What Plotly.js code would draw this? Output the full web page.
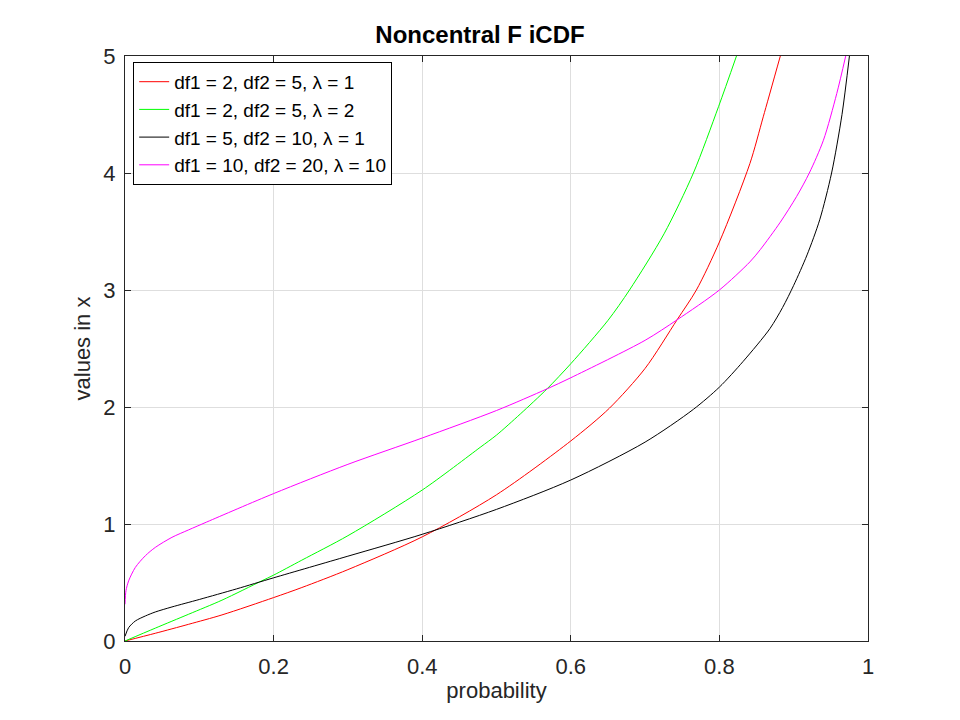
<!DOCTYPE html>
<html>
<head>
<meta charset="utf-8">
<script src="https://cdn.plot.ly/plotly-3.0.1.min.js"></script>
<style>
  html, body { margin: 0; padding: 0; background: #fff; }
  #plot { width: 960px; height: 720px; }
</style>
</head>
<body>
<div id="plot"></div>
<script>
// ─── Values ──────────────────────────────────────────────────────
const seriesNames = [
  'df1 = 2, df2 = 5, λ = 1',
  'df1 = 2, df2 = 5, λ = 2',
  'df1 = 5, df2 = 10, λ = 1',
  'df1 = 10, df2 = 20, λ = 10'
];
const seriesColors = ['#ff0000', '#00ff00', '#000000', '#ff00ff'];

const redP = [0, 0.0408, 0.0857, 0.1305, 0.2, 0.238, 0.3, 0.4, 0.5, 0.6, 0.652, 0.7, 0.743, 0.769, 0.8, 0.841, 0.859, 0.882];
const redX = [0, 0.066, 0.143, 0.223, 0.371, 0.457, 0.61, 0.89, 1.25, 1.71, 1.99, 2.33, 2.745, 3.0, 3.41, 4.08, 4.48, 5.0];

const greenP = [0, 0.0408, 0.0857, 0.1305, 0.184, 0.2, 0.238, 0.3, 0.4, 0.478, 0.5, 0.532, 0.568, 0.6, 0.65, 0.679, 0.7255, 0.765, 0.799, 0.823];
const greenX = [0, 0.11, 0.229, 0.349, 0.514, 0.563, 0.691, 0.90, 1.29, 1.655, 1.76, 1.94, 2.155, 2.37, 2.74, 3.0, 3.48, 4.0, 4.57, 5.0];

const blackP = [0, 0.0049, 0.0139, 0.0274, 0.0408, 0.0632, 0.1, 0.15, 0.2, 0.3, 0.4, 0.5, 0.6, 0.7, 0.765, 0.8, 0.832, 0.868, 0.885, 0.9, 0.918, 0.935, 0.951, 0.965, 0.975];
const blackX = [0.04, 0.114, 0.171, 0.214, 0.248, 0.291, 0.355, 0.445, 0.54, 0.725, 0.912, 1.125, 1.376, 1.70, 1.98, 2.17, 2.39, 2.67, 2.85, 3.04, 3.3, 3.6, 4.0, 4.5, 5.0];

const magentaP = [0, 0.0013, 0.0049, 0.0139, 0.0274, 0.0408, 0.0632, 0.0857, 0.11, 0.2, 0.3, 0.4, 0.5, 0.568, 0.6, 0.7, 0.743, 0.8, 0.841, 0.855, 0.882, 0.904, 0.921, 0.94, 0.958, 0.97];
const magentaX = [0.314, 0.43, 0.514, 0.629, 0.729, 0.80, 0.886, 0.95, 1.017, 1.26, 1.51, 1.735, 1.97, 2.155, 2.25, 2.57, 2.745, 3.0, 3.24, 3.345, 3.58, 3.80, 4.0, 4.28, 4.68, 5.0];

const xTicks = [0, 0.2, 0.4, 0.6, 0.8, 1];
const xTickText = ['0', '0.2', '0.4', '0.6', '0.8', '1'];
const yTicks = [0, 1, 2, 3, 4, 5];

// ─── Traces ──────────────────────────────────────────────────────
const allP = [redP, greenP, blackP, magentaP];
const allX = [redX, greenX, blackX, magentaX];

const traces = seriesNames.map((name, i) => ({
  x: allP[i],
  y: allX[i],
  type: 'scatter',
  mode: 'lines',
  name: name,
  line: { color: seriesColors[i], width: 1, shape: 'spline', smoothing: 0.8 }
}));

const FONT = 'Liberation Sans, Arial, Helvetica, sans-serif';
const AXIS_COLOR = '#262626';

const axisCommon = {
  showline: true,
  linecolor: AXIS_COLOR,
  linewidth: 1,
  mirror: 'ticks',
  ticks: 'inside',
  ticklen: 6,
  tickwidth: 1,
  tickcolor: AXIS_COLOR,
  showgrid: true,
  gridcolor: '#dedede',
  gridwidth: 1,
  zeroline: false,
  tickfont: { family: FONT, size: 22, color: AXIS_COLOR }
};

const layout = {
  width: 960,
  height: 720,
  paper_bgcolor: '#ffffff',
  plot_bgcolor: '#ffffff',
  margin: { l: 125, r: 92, t: 56, b: 79 },
  title: {
    text: '<b>Noncentral F iCDF</b>',
    font: { family: FONT, size: 24, color: '#000000' },
    x: 0.5,
    xanchor: 'center',
    y: 0.952,
    yanchor: 'middle'
  },
  xaxis: Object.assign({}, axisCommon, {
    range: [0, 1],
    tickvals: xTicks,
    ticktext: xTickText,
    ticklabelstandoff: 6,
    title: { text: 'probability', font: { family: FONT, size: 22, color: AXIS_COLOR }, standoff: 4 }
  }),
  yaxis: Object.assign({}, axisCommon, {
    range: [0, 5],
    tickvals: yTicks,
    ticklabelstandoff: 4,
    title: { text: 'values in x', font: { family: FONT, size: 22, color: AXIS_COLOR }, standoff: 6 }
  }),
  showlegend: true,
  legend: {
    x: 0.011,
    y: 0.99,
    xanchor: 'left',
    yanchor: 'top',
    bgcolor: '#ffffff',
    bordercolor: '#000000',
    borderwidth: 1,
    itemwidth: 30,
    tracegroupgap: 0,
    font: { family: FONT, size: 19, color: '#000000' }
  }
};

Plotly.newPlot('plot', traces, layout, { displayModeBar: false, staticPlot: true });
</script>
</body>
</html>
